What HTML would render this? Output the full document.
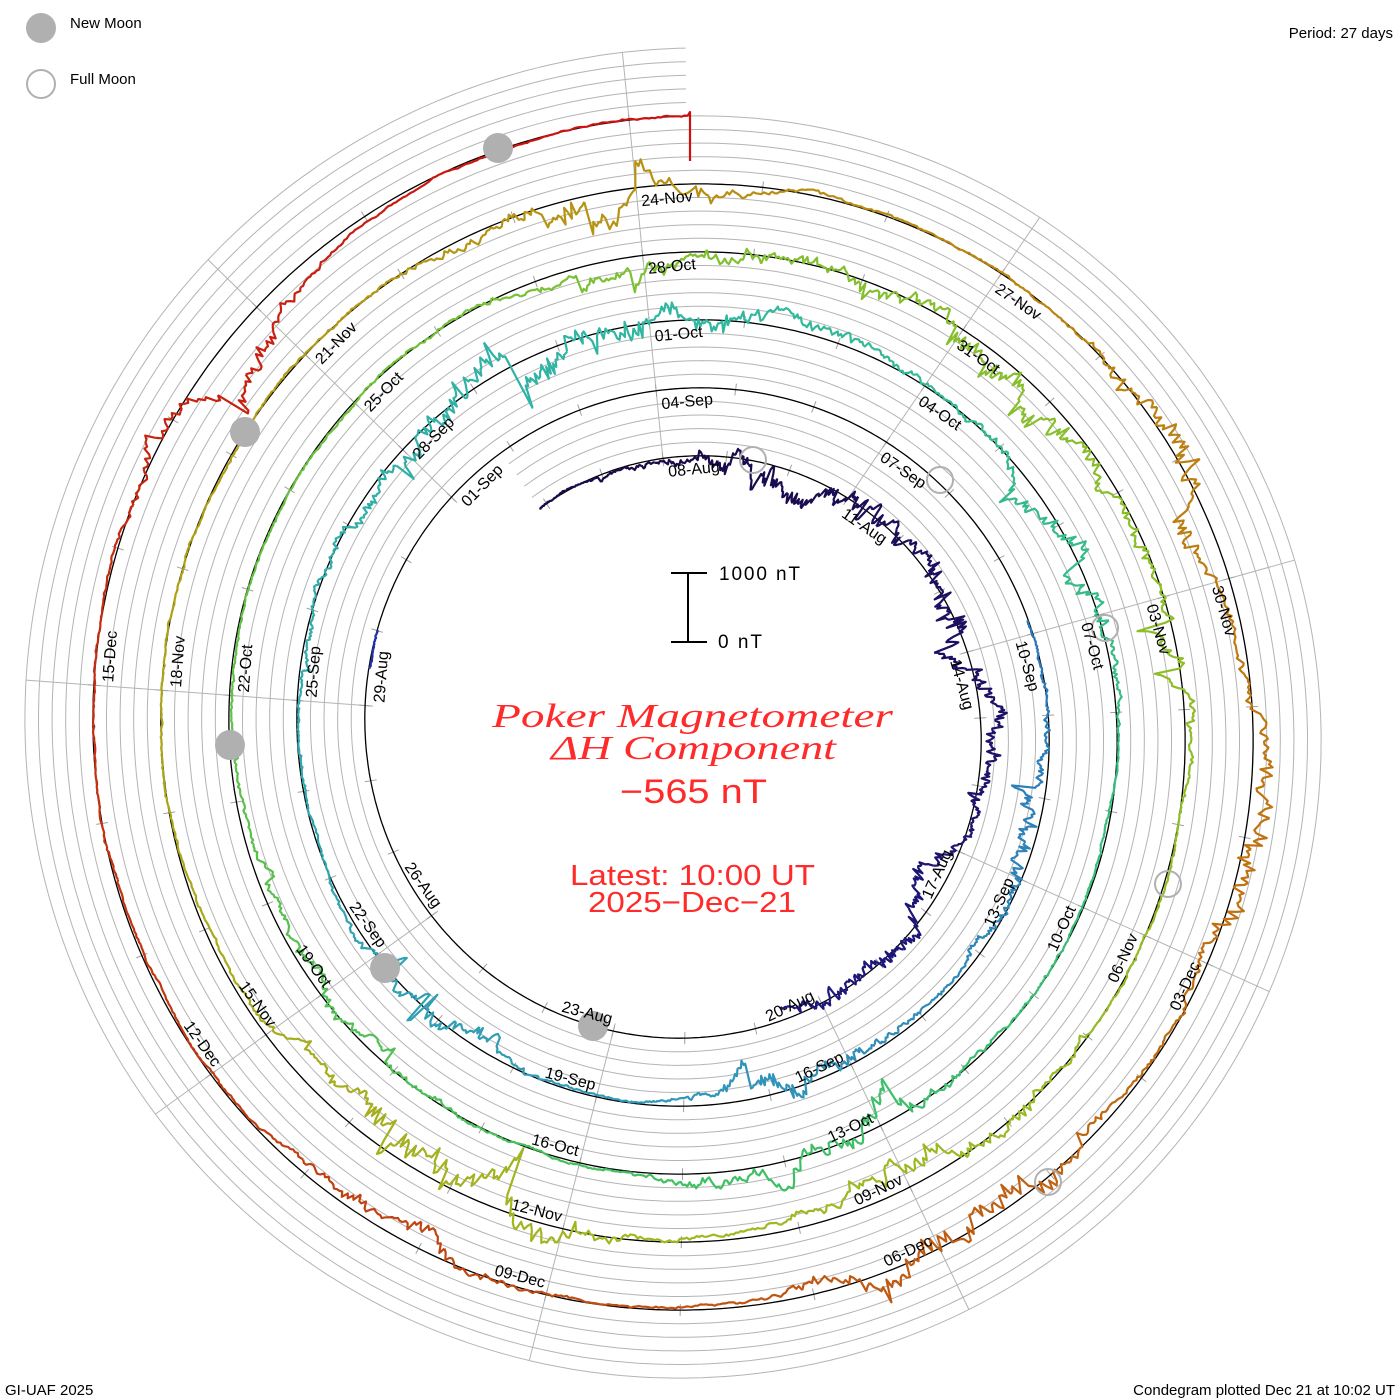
<!DOCTYPE html>
<html><head><meta charset="utf-8"><style>
html,body{margin:0;padding:0;background:#fff;}
svg{display:block;}
.lb{font-family:"Liberation Sans",sans-serif;font-size:16px;fill:#000;}
.sm{font-family:"Liberation Sans",sans-serif;font-size:15px;fill:#000;}
</style></head><body>
<svg id="s" width="1400" height="1400" viewBox="0 0 1400 1400" xmlns="http://www.w3.org/2000/svg">
<g id="grid"></g>
<g id="trace"></g>
<g fill="#b0b0b0">
<circle cx="498" cy="148" r="15"/><circle cx="245" cy="432" r="15"/><circle cx="230" cy="745" r="15"/><circle cx="385" cy="968" r="15"/><circle cx="593" cy="1026" r="15"/>
<circle cx="41" cy="28" r="15"/>
</g>
<g fill="none" stroke="#b0b0b0" stroke-width="2">
<circle cx="940" cy="480" r="13"/><circle cx="753" cy="460" r="13"/><circle cx="1105" cy="628" r="13"/><circle cx="1168" cy="884" r="13"/><circle cx="1048" cy="1182" r="13"/>
<circle cx="41" cy="84" r="14"/>
</g>
<text class="sm" x="70" y="28">New Moon</text>
<text class="sm" x="70" y="84">Full Moon</text>
<text class="sm" x="1393" y="38" text-anchor="end">Period: 27 days</text>
<text class="sm" x="5" y="1395">GI-UAF 2025</text>
<text class="sm" x="1395" y="1395" text-anchor="end">Condegram plotted Dec 21 at 10:02 UT</text>
<g stroke="#000" stroke-width="2"><line x1="688" y1="573" x2="688" y2="642"/><line x1="671" y1="573" x2="707" y2="573"/><line x1="671" y1="642" x2="707" y2="642"/></g>
<text x="719" y="580" font-family="Liberation Sans,sans-serif" font-size="19" textLength="81">1000 nT</text>
<text x="718" y="648" font-family="Liberation Sans,sans-serif" font-size="19" textLength="44">0 nT</text>
<g fill="#ff2a2a">
<text x="492" y="727" font-family="Liberation Serif,serif" font-style="italic" font-size="34" textLength="401" lengthAdjust="spacingAndGlyphs">Poker Magnetometer</text>
<text x="551" y="759" font-family="Liberation Serif,serif" font-style="italic" font-size="34" textLength="285" lengthAdjust="spacingAndGlyphs">ΔH Component</text>
<text x="620" y="803" font-family="Liberation Sans,sans-serif" font-size="34" textLength="147" lengthAdjust="spacingAndGlyphs">−565 nT</text>
<text x="570" y="885" font-family="Liberation Sans,sans-serif" font-size="29" textLength="245" lengthAdjust="spacingAndGlyphs">Latest: 10:00 UT</text>
<text x="588" y="912" font-family="Liberation Sans,sans-serif" font-size="29" textLength="208" lengthAdjust="spacingAndGlyphs">2025−Dec−21</text>
</g>
<g class="lb">
<g transform="translate(690 730) rotate(-5.7)"><text x="4" y="-254">08-Aug</text><text x="4" y="-322">04-Sep</text><text x="4" y="-390">01-Oct</text><text x="4" y="-458">28-Oct</text><text x="4" y="-526">24-Nov</text></g>
</g>
<g class="lb" id="labels"></g>
</svg>
<script>
(function(){
var NS='http://www.w3.org/2000/svg';
var cx=690,cy=730;
function R(t){return 274+68*t;}
function P(t,r){var a=2*Math.PI*t;return [cx+r*Math.sin(a),cy-r*Math.cos(a)];}
function el(p,tag,at){var e=document.createElementNS(NS,tag);for(var k in at)e.setAttribute(k,at[k]);p.appendChild(e);return e;}
var grid=document.getElementById('grid');
var T0=-0.095,T1=5.0;
function spiral(off){var d='';for(var t=T0;t<=T1+1e-9;t+=0.002){var p=P(t,R(t)+off);d+=(d?'L':'M')+p[0].toFixed(1)+' '+p[1].toFixed(1);}return d;}
for(var j=1;j<=5;j++)el(grid,'path',{d:spiral(13.6*j),fill:'none',stroke:'#b4b4b4','stroke-width':1});
for(var k=0;k<9;k++){var a=-5.7+40*k;var t0=a/360;var nmax=Math.floor(T1-t0);
var p1=P(t0,R(t0)-8),p2=P(t0,R(t0+nmax)+68);
el(grid,'line',{x1:p1[0],y1:p1[1],x2:p2[0],y2:p2[1],stroke:'#b4b4b4','stroke-width':1});}
for(var d=-2;d<140;d++){var t=(-5.7+d*40/3)/360;if(t<T0||t>T1)continue;var q1=P(t,R(t)-6),q2=P(t,R(t)+6);
el(grid,'line',{x1:q1[0],y1:q1[1],x2:q2[0],y2:q2[1],stroke:'#a0a0a0','stroke-width':1});}
el(grid,'path',{d:spiral(0),fill:'none',stroke:'#000','stroke-width':1.3});
var L=document.getElementById('labels');
var names=[
['11-Aug','07-Sep','04-Oct','31-Oct','27-Nov'],
['14-Aug','10-Sep','07-Oct','03-Nov','30-Nov'],
['17-Aug','13-Sep','10-Oct','06-Nov','03-Dec'],
['20-Aug','16-Sep','13-Oct','09-Nov','06-Dec'],
['23-Aug','19-Sep','16-Oct','12-Nov','09-Dec'],
['26-Aug','22-Sep','19-Oct','15-Nov','12-Dec'],
['29-Aug','25-Sep','22-Oct','18-Nov','15-Dec'],
['01-Sep','28-Sep','25-Oct','21-Nov']];
for(var k=1;k<9;k++){var a=-5.7+40*k;var flip=Math.cos(a*Math.PI/180)<0;
var g=el(L,'g',{transform:'translate(690 730) rotate('+(flip?a+180:a)+')'});
var arr=names[k-1];
for(var n=0;n<arr.length;n++){var Rr=R(a/360+n);var tx;
if(!flip){tx=el(g,'text',{x:4,y:(-Rr+19).toFixed(1)});}
else{tx=el(g,'text',{x:-4,y:(Rr-6).toFixed(1),'text-anchor':'end'});}
tx.textContent=arr[n];}}
var seed=987654;function rnd(){seed=(seed*1664525+1013904223)>>>0;return seed/4294967296;}
function gs(){var u=rnd()||1e-9,v=rnd();return Math.sqrt(-2*Math.log(u))*Math.cos(2*Math.PI*v);}
var storms=[[0.05,0.06,25],[0.2,0.08,22],[0.35,0.05,15],[0.42,0.03,15],[1.3,0.05,15],[1.45,0.04,18],[1.62,0.04,15],[1.95,0.1,28],[2.18,0.04,22],[2.45,0.05,22],[2.65,0.05,10],[3.0,0.06,15],[3.12,0.05,30],[3.22,0.03,15],[3.42,0.04,20],[3.58,0.05,30],[3.97,0.04,25],[4.17,0.03,25],[4.28,0.04,25],[4.42,0.04,30],[4.58,0.03,18],[4.85,0.03,22]];
function act(t){var s=2;for(var i=0;i<storms.length;i++){var z=(t-storms[i][0])/storms[i][1];s+=storms[i][2]*Math.exp(-z*z);}return s;}
var stops=[[0,[26,10,74]],[0.7,[32,32,160]],[1.0,[42,96,184]],[1.5,[48,152,184]],[2.0,[48,184,160]],[2.5,[64,192,96]],[3.0,[128,192,48]],[3.5,[160,184,32]],[4.0,[184,144,16]],[4.3,[192,112,16]],[4.6,[192,64,16]],[5.0,[204,16,16]]];
function col(t){for(var i=1;i<stops.length;i++){if(t<=stops[i][0]||i==stops.length-1){var a=stops[i-1],b=stops[i];var f=Math.max(0,Math.min(1,(t-a[0])/(b[0]-a[0])));
return 'rgb('+[0,1,2].map(function(c){return Math.round(a[1][c]+(b[1][c]-a[1][c])*f);}).join(',')+')';}}}
var segs=[[-0.095,0.45],[0.78,0.80],[1.2,5.0]];
var TR=document.getElementById('trace');
var dt=1/1296;
segs.forEach(function(sg){var x=0,sp=0,pts=[],ts=[];
for(var t=sg[0];t<=sg[1]+1e-9;t+=dt){var A=act(t);
x+=-0.03*x+A*0.15*gs();
if(rnd()<0.006*A/10)sp=-(A*(0.8+rnd()*1.5))*(rnd()<0.8?1:-0.6);
sp*=0.82;
var o=x+sp+A*0.15*gs()-A*0.25;
o=Math.max(-70,Math.min(50,o));
pts.push(P(t,R(t)+o));ts.push(t);}
if(sg[1]>=5){var pe=P(5,R(5)+4),pd=P(5,R(5)-45);pts.push(pe);ts.push(5);pts.push(pd);ts.push(5);}
for(var i=0;i<pts.length-1;i+=12){var d='';for(var j=i;j<=Math.min(i+12,pts.length-1);j++)d+=(d?'L':'M')+pts[j][0].toFixed(1)+' '+pts[j][1].toFixed(1);
el(TR,'path',{d:d,fill:'none',stroke:col(ts[i]),'stroke-width':2.2,'stroke-linejoin':'round'});}
});
})();
</script>
</body></html>
